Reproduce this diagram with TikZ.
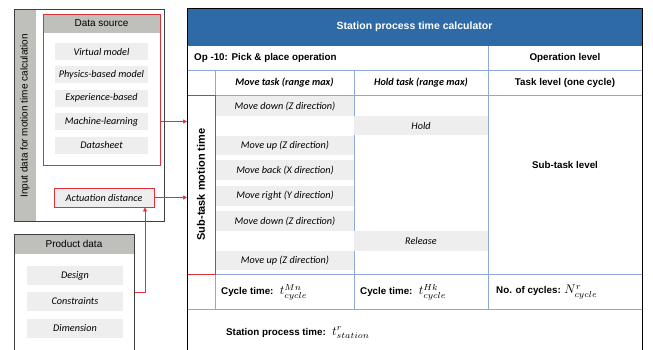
\documentclass[tikz,border=0pt]{standalone}
\usepackage{fontspec}
\setmainfont{Liberation Sans}
\newfontfamily\carlito{Carlito}
\usetikzlibrary{arrows.meta,calc}
\definecolor{hdrblue}{HTML}{2E6BA6}
\definecolor{itemgray}{HTML}{EEEEEE}
\definecolor{headgray}{HTML}{BFBFBC}
\definecolor{redline}{HTML}{E0303A}
\definecolor{tblue}{HTML}{8FA8DA}
\definecolor{framegray}{HTML}{404040}
\newcommand{\mymath}[1]{\scalebox{1.25}{$#1$}}
\tikzset{
  item/.style={fill=itemgray, font=\carlito\itshape\fontsize{10.2}{12}\selectfont, inner sep=0pt, minimum height=17pt},
  litem/.style={item, minimum width=93pt},
  mitem/.style={item, minimum width=138pt, minimum height=19.5pt},
  hitem/.style={item, minimum width=134pt, minimum height=19.5pt},
  hdr/.style={font=\fontsize{10}{12}\selectfont, inner sep=0pt},
  bold/.style={font=\bfseries\fontsize{9.8}{11}\selectfont, inner sep=0pt},
  redarrow/.style={draw=redline, line width=0.7pt, -{Triangle[length=4pt,width=4pt]}},
  tline/.style={draw=tblue, line width=0.6pt}
}
\begin{document}
\begin{tikzpicture}[x=1pt,y=-1pt]
\useasboundingbox (0,0) rectangle (653,349);
% ---- left input panel
\fill[headgray] (14,9) rectangle (36,221);
\draw[framegray, line width=0.8pt] (14,9) rectangle (164,221);
\node[hdr, rotate=90] (inlbl) at (25,116) {Input data for motion time calculation};
% data source
\fill[headgray] (43,14) rectangle (160,33);
\node[draw=redline, line width=0.8pt, minimum width=117pt, minimum height=151pt, inner sep=0pt] (ds) at (101.5,89.5) {};
\node[hdr] (dslbl) at (101.5,23.5) {Data source};
\node[litem] (vm) at (101.5,51.5) {Virtual model};
\node[litem] (pb) at (101.5,74.5) {Physics-based model};
\node[litem] (eb) at (101.5,98) {Experience-based};
\node[litem] (ml) at (101.5,121.5) {Machine-learning};
\node[litem] (dsh) at (101.5,145) {Datasheet};
% actuation distance
\node[item, fill=itemgray, draw=redline, line width=0.8pt, minimum width=100pt, minimum height=19pt] (act) at (104,197.5) {Actuation distance};
% ---- product data
\fill[headgray] (14,234) rectangle (134,254);
\node[draw=framegray, line width=0.8pt, minimum width=120pt, minimum height=125pt, inner sep=0pt, anchor=north west] (pd) at (14,234) {};
\node[hdr] (pdlbl) at (74,244) {Product data};
\node[litem, minimum width=96pt, minimum height=19pt] (des) at (75,275.5) {Design};
\node[litem, minimum width=96pt, minimum height=19pt] (con) at (75,301.5) {Constraints};
\node[litem, minimum width=96pt, minimum height=19pt] (dim) at (75,328.5) {Dimension};
% ---- table
\fill[hdrblue] (187,8) rectangle (642,46);
\node[font=\bfseries\fontsize{10.5}{12}\selectfont, text=white] (title) at (414.5,27) {Station process time calculator};
\draw[tline] (187,70) -- (642,70);
\draw[tline] (187,95) -- (642,95);
\draw[tline] (187,274) -- (642,274);
\draw[tline] (187,309) -- (642,309);
\draw[tline] (488,46) -- (488,309);
\draw[tline] (354,70) -- (354,309);
\draw[tline] (215,70) -- (215,309);
\node[bold, anchor=west] (op) at (194,58) {Op -10: Pick \& place operation};
\node[bold] (oplev) at (565,58) {Operation level};
\node[item, fill=none, font=\carlito\itshape\bfseries\fontsize{10.2}{12}\selectfont] (movet) at (284.5,82.5) {Move task (range max)};
\node[item, fill=none, font=\carlito\itshape\bfseries\fontsize{10.2}{12}\selectfont] (holdt) at (421,82.5) {Hold task (range max)};
\node[bold] (tlev) at (565,82.5) {Task level (one cycle)};
% move items
\node[mitem] (m1) at (285,106) {Move down (Z direction)};
\node[hitem] (h1) at (421,125.5) {Hold};
\node[mitem] (m2) at (285,145.5) {Move up (Z direction)};
\node[mitem] (m3) at (285,170) {Move back (X direction)};
\node[mitem] (m4) at (285,196) {Move right (Y direction)};
\node[mitem] (m5) at (285,221) {Move down (Z direction)};
\node[hitem] (h2) at (421,241) {Release};
\node[mitem] (m6) at (285,260.5) {Move up (Z direction)};
\node[bold] (stl) at (565,165) {Sub-task level};
% sub-task red box
\node[draw=redline, line width=0.8pt, minimum width=28pt, minimum height=179pt, inner sep=0pt, anchor=north west] (sub) at (187,95) {};
\node[font=\bfseries\fontsize{11}{13}\selectfont, rotate=90] (sublbl) at (201,184.5) {Sub-task motion time};
% cycle row
\node[bold, anchor=west] (c1) at (221,292) {Cycle time: \ \mymath{t^{Mn}_{cycle}}};
\node[bold, anchor=west] (c2) at (360,292) {Cycle time: \ \mymath{t^{Hk}_{cycle}}};
\node[bold, anchor=west] (c3) at (496,292) {No. of cycles: \mymath{N^{r}_{cycle}}};
\node[bold, anchor=west] (spt) at (226,333) {Station process time: \ \mymath{t^{r}_{station}}};
\draw[black, line width=1pt] (187,8) rectangle (642,352);
% ---- connectors
\draw[redarrow] (ds.east |- ml) -- (sub.west |- ml);
\draw[redarrow] (act.east) -- (sub.west |- act);
\coordinate (pdout) at (134,292);
\coordinate (knee) at (145,292);
\draw[redarrow] (pd.east |- pdout) -- (knee) -- (knee |- act.south);
\end{tikzpicture}
\end{document}
